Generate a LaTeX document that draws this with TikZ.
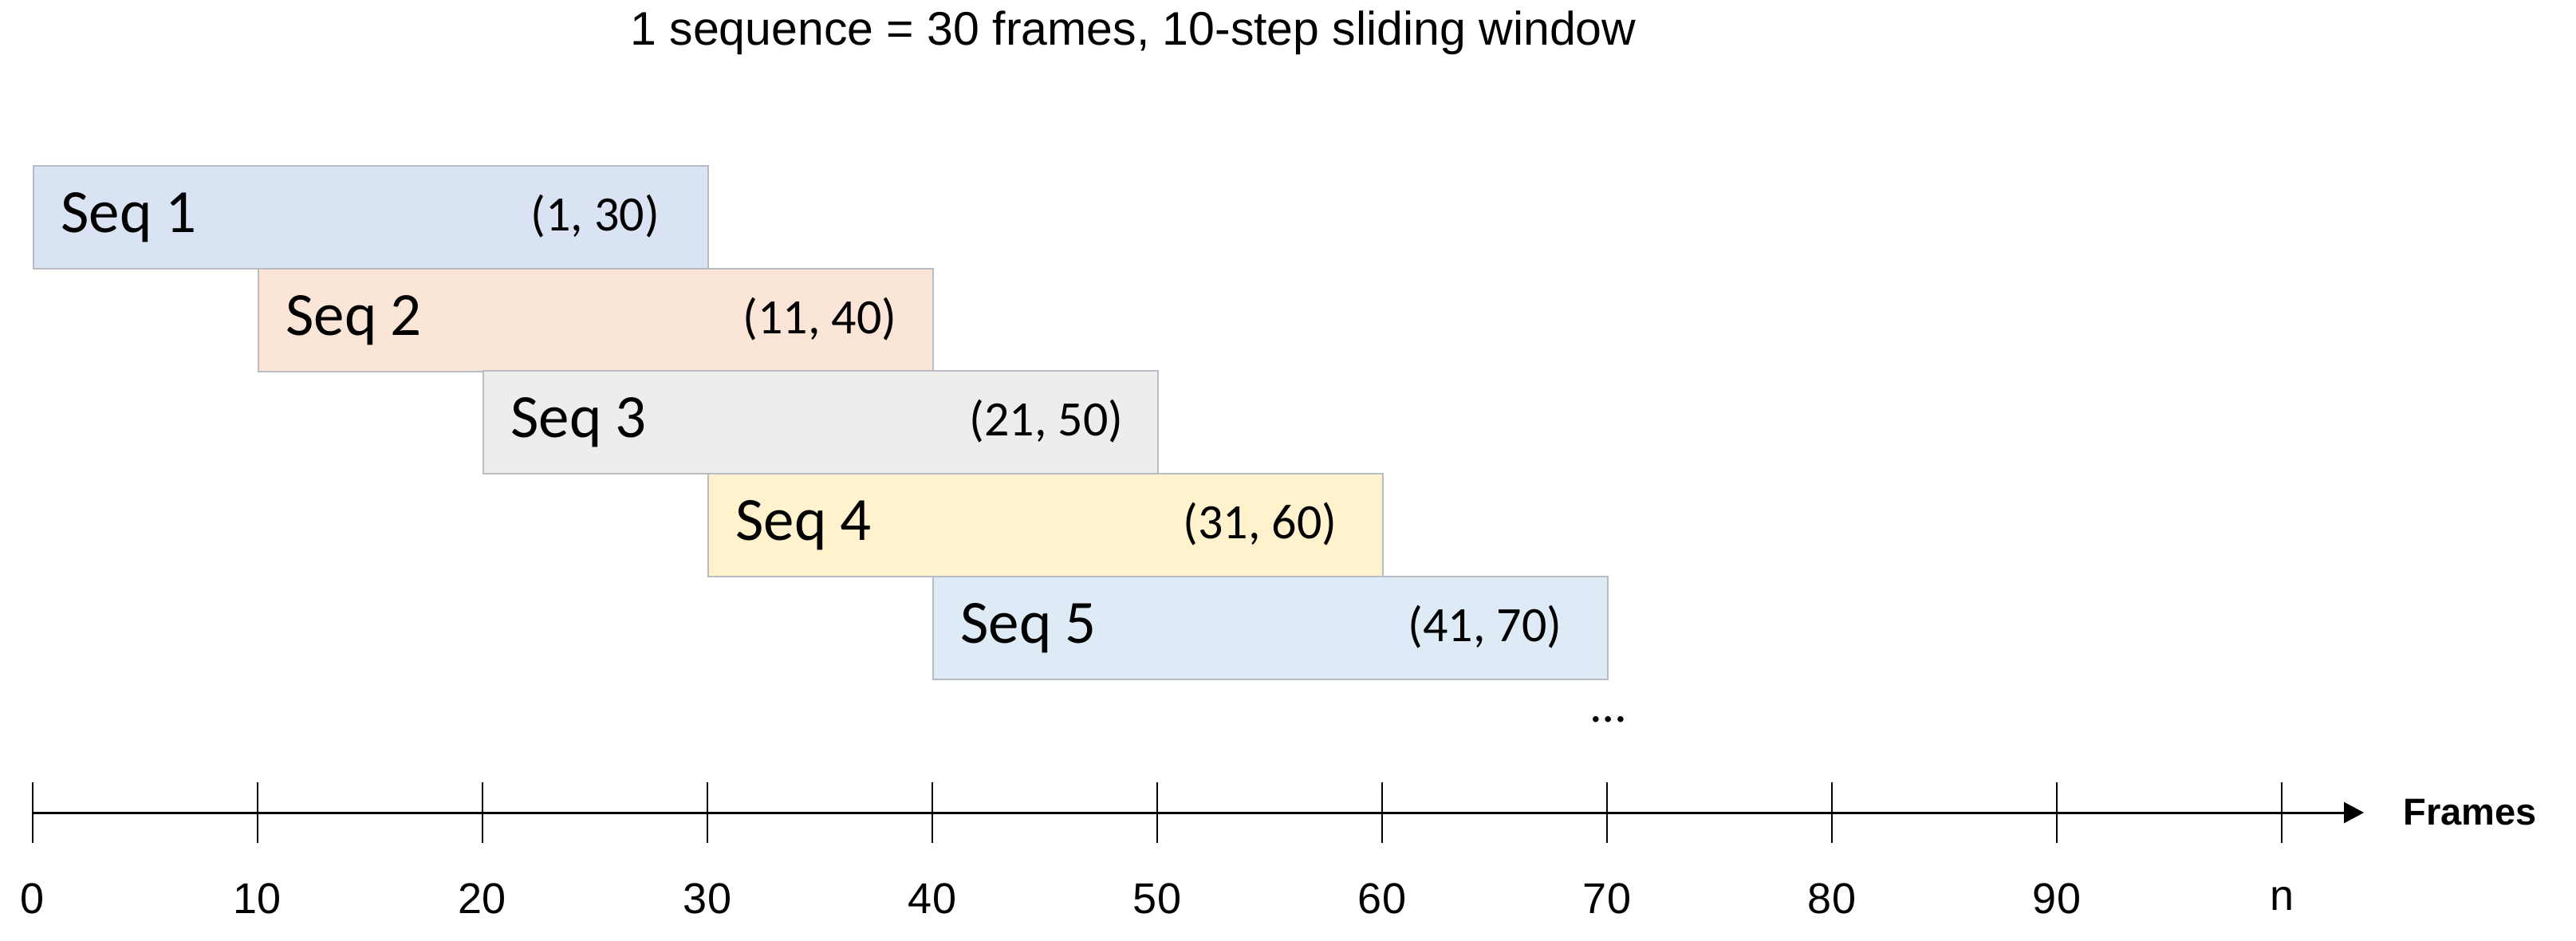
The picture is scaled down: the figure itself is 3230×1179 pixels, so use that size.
\documentclass[tikz,border=0pt]{standalone}
\usepackage{fontspec}
\setmainfont{Liberation Sans}
\newfontfamily\calfont{Carlito}
\usetikzlibrary{arrows.meta}
\definecolor{sqa}{HTML}{DAE3F3}
\definecolor{sqb}{HTML}{FBE5D6}
\definecolor{sqc}{HTML}{EDEDED}
\definecolor{sqd}{HTML}{FFF2CC}
\definecolor{sqe}{HTML}{DEEBF7}
\definecolor{boxline}{HTML}{B8BCC3}
\begin{document}
\begin{tikzpicture}[x=0.5pt,y=-0.5pt,
  seqbox/.style={draw=boxline, line width=0.9pt, rectangle, inner sep=0pt,
    minimum width=423pt, minimum height=64.5pt, anchor=north west},
  seqlabel/.style={font=\calfont\fontsize{38.5}{44}\selectfont, anchor=west, inner sep=0pt},
  rangelabel/.style={font=\calfont\fontsize{31}{36}\selectfont, anchor=west, inner sep=0pt},
  ticklabel/.style={font=\fontsize{27}{32}\selectfont, inner sep=0pt},
  axisline/.style={line width=1.5pt, -{Triangle[length=12.5pt,width=13pt]}},
  tickline/.style={line width=1.4pt}]
\useasboundingbox (0,0) rectangle (3230,1179);

\node[font=\fontsize{29.5}{34}\selectfont] (title) at (1421,41) {1 sequence = 30 frames, 10-step sliding window};

\node[seqbox, fill=sqa] (s1) at (41,207) {};
\node[seqbox, fill=sqb] (s2) at (323,336) {};
\node[seqbox, fill=sqc] (s3) at (605,464) {};
\node[seqbox, fill=sqd] (s4) at (887,593) {};
\node[seqbox, fill=sqe] (s5) at (1169,722) {};

\node[seqlabel] (l1) at ([xshift=17.5pt]s1.west) {Seq 1};
\node[seqlabel] (l2) at ([xshift=17.5pt]s2.west) {Seq 2};
\node[seqlabel] (l3) at ([xshift=17.5pt]s3.west) {Seq 3};
\node[seqlabel] (l4) at ([xshift=17.5pt]s4.west) {Seq 4};
\node[seqlabel] (l5) at ([xshift=17.5pt]s5.west) {Seq 5};

\node[rangelabel] (r1) at (665,271) {(1, 30)};
\node[rangelabel] (r2) at (931,400) {(11, 40)};
\node[rangelabel] (r3) at (1215,528) {(21, 50)};
\node[rangelabel] (r4) at (1483,657) {(31, 60)};
\node[rangelabel] (r5) at (1765,786) {(41, 70)};

\node[font=\calfont\fontsize{31}{36}\selectfont, inner sep=0pt] (dots) at (2017,902) {\dots};

\coordinate (a0) at (41,1019);
\coordinate (aend) at (2964,1019);
\draw[axisline] (a0) -- (aend);
\node[font=\bfseries\fontsize{23.5}{28}\selectfont, anchor=west, inner sep=0pt] (frames) at (3013,1019) {Frames};

\foreach \i/\lab in {0/0,1/10,2/20,3/30,4/40,5/50,6/60,7/70,8/80,9/90,10/n} {
  \coordinate (t\i) at ({41+282*\i},1019);
  \draw[tickline] ([yshift=19pt]t\i) -- ([yshift=-19pt]t\i);
  \node[ticklabel] (tl\i) at ({41+282*\i},1127) {\lab};
}
\end{tikzpicture}
\end{document}
